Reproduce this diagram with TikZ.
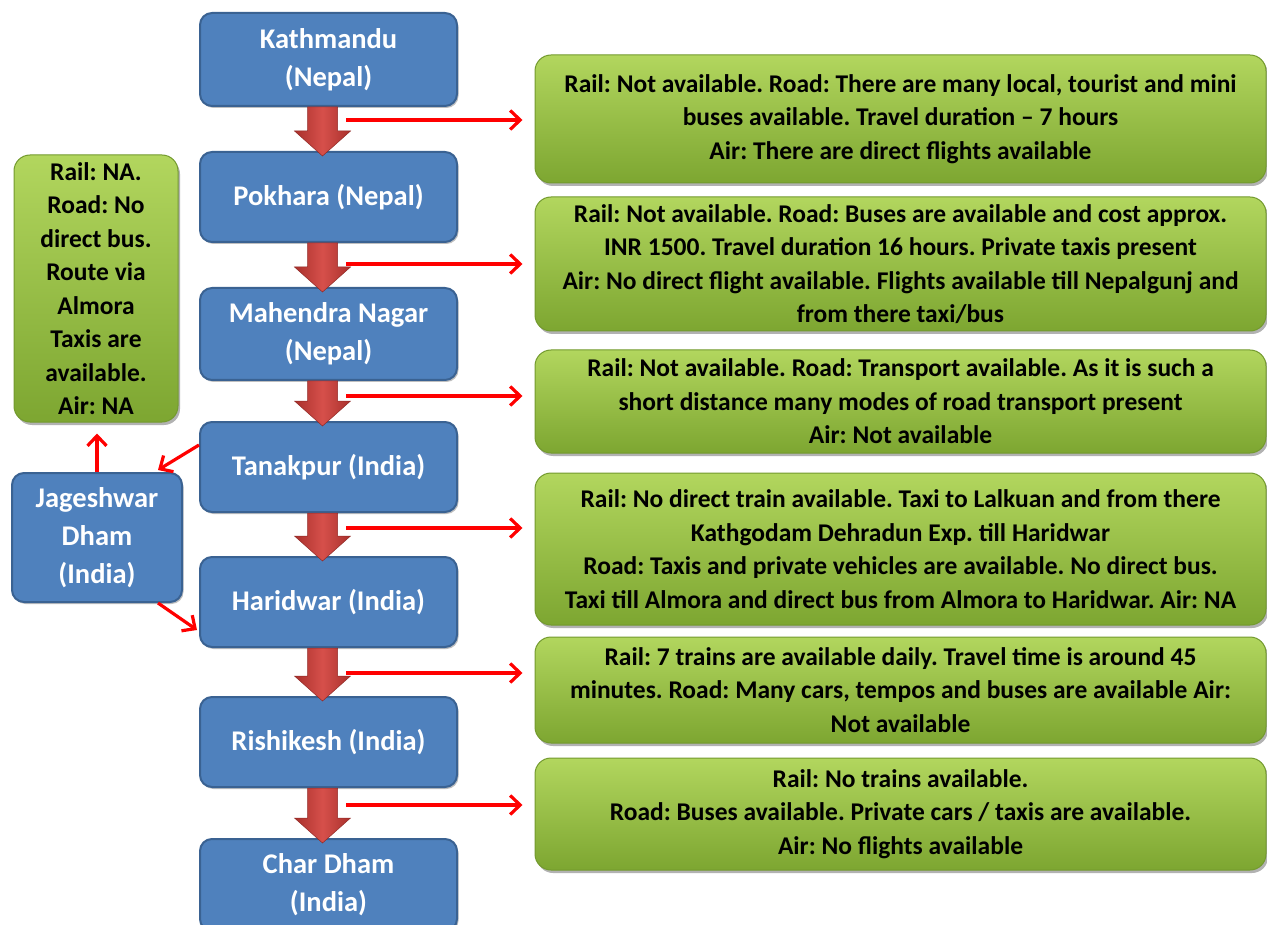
\documentclass[tikz,border=0pt]{standalone}
\usepackage{fontspec}
\setmainfont{Carlito}
\usetikzlibrary{shadows,arrows.meta,calc}
\definecolor{bfill}{HTML}{4F81BD}
\definecolor{bdraw}{HTML}{3A6292}
\definecolor{gtop}{HTML}{B2D65E}
\definecolor{gbot}{HTML}{7DA631}
\definecolor{gdraw}{HTML}{739A2E}
\definecolor{rlight}{HTML}{D6504B}
\definecolor{rdark}{HTML}{A9302C}
\definecolor{arrred}{HTML}{FF0000}
\tikzset{
  bluebox/.style={draw=bdraw, fill=bfill, line width=2pt, rounded corners=12pt,
    minimum width=257pt, text=white, align=center, inner sep=2pt,
    font=\bfseries\fontsize{28.5}{38}\selectfont,
    drop shadow={shadow xshift=1.5pt, shadow yshift=-2pt, fill=black, opacity=0.25}},
  greenbox/.style={draw=gdraw, line width=1pt, rounded corners=16pt,
    top color=gtop, bottom color=gbot, text=black, align=center, inner sep=2pt,
    font=\bfseries\fontsize{25.5}{33.5}\selectfont,
    drop shadow={shadow xshift=2pt, shadow yshift=-3pt, fill=black, opacity=0.3}},
  thinarr/.style={draw=arrred, line width=3.2pt, -{Straight Barb[length=10pt,width=19pt]}},
  blockarr/.style={draw=rdark!85!black, line width=0.5pt, left color=rdark, right color=rdark, middle color=rlight}
}
\newcommand\blkarrow[2]{%
  \path ([xshift=-6pt]#1.south) coordinate (bat) ([xshift=-6pt,yshift=-5pt]#2.north) coordinate (bab);
  \draw[blockarr] let \p1=(bat), \p2=(bab) in
    (\x1-15pt,\y1) -- (\x1-15pt,\y2+25pt) -- (\x1-28pt,\y2+25pt) -- (\x1,\y2)
    -- (\x1+28pt,\y2+25pt) -- (\x1+15pt,\y2+25pt) -- (\x1+15pt,\y1) -- cycle;}
\begin{document}
\frenchspacing
\begin{tikzpicture}[x=1pt,y=-1pt]
\useasboundingbox (0,0) rectangle (1267,925);
% blue boxes
\node[bluebox, minimum height=93pt] (kat) at (328.5,59.5) {Kathmandu\\(Nepal)};
\node[bluebox, minimum height=90pt] (pok) at (328.5,197) {Pokhara (Nepal)};
\node[bluebox, minimum height=92pt] (mah) at (328.5,334) {Mahendra Nagar\\(Nepal)};
\node[bluebox, minimum height=90pt] (tan) at (328.5,467) {Tanakpur (India)};
\node[bluebox, minimum height=90pt] (har) at (328.5,602) {Haridwar (India)};
\node[bluebox, minimum height=90pt] (ris) at (328.5,742) {Rishikesh (India)};
\node[bluebox, minimum height=92pt] (cha) at (328.5,885) {Char Dham\\(India)};
\node[bluebox, minimum width=170pt, minimum height=129pt] (jag) at (97,537.5) {Jageshwar\\Dham\\(India)};
% green boxes
\node[greenbox, minimum width=731pt, minimum height=128pt] (g1) at (900.5,119) {Rail: Not available. Road: There are many local, tourist and mini\\buses available. Travel duration -- 7 hours\\Air: There are direct flights available};
\node[greenbox, minimum width=731pt, minimum height=134pt] (g2) at (900.5,264) {Rail: Not available. Road: Buses are available and cost approx.\\INR 1500. Travel duration 16 hours. Private taxis present\\Air: No direct flight available. Flights available till Nepalgunj and\\from there taxi/bus};
\node[greenbox, minimum width=731pt, minimum height=103pt] (g3) at (900.5,401.5) {Rail: Not available. Road: Transport available. As it is such a\\short distance many modes of road transport present\\Air: Not available};
\node[greenbox, minimum width=731pt, minimum height=152pt] (g4) at (900.5,549) {Rail: No direct train available. Taxi to Lalkuan and from there\\Kathgodam Dehradun Exp. till Haridwar\\Road: Taxis and private vehicles are available. No direct bus.\\Taxi till Almora and direct bus from Almora to Haridwar. Air: NA};
\node[greenbox, minimum width=731pt, minimum height=106pt] (g5) at (900.5,690) {Rail: 7 trains are available daily. Travel time is around 45\\minutes. Road: Many cars, tempos and buses are available Air:\\Not available};
\node[greenbox, minimum width=731pt, minimum height=112pt] (g6) at (900.5,814) {Rail: No trains available.\\Road: Buses available. Private cars / taxis are available.\\Air: No flights available};
\node[greenbox, minimum width=164pt, minimum height=267pt] (gl) at (96,288.5) {Rail: NA.\\Road: No\\direct bus.\\Route via\\Almora\\Taxis are\\available.\\Air: NA};
% block arrows
\blkarrow{kat}{pok}
\blkarrow{pok}{mah}
\blkarrow{mah}{tan}
\blkarrow{tan}{har}
\blkarrow{har}{ris}
\blkarrow{ris}{cha}
% thin arrows to the green boxes
\coordinate (s1) at (346,120);
\coordinate (s2) at (346,264);
\coordinate (s3) at (346,396);
\coordinate (s4) at (346,528);
\coordinate (s5) at (346,673);
\coordinate (s6) at (346,805);
\foreach \i in {1,...,6}{\draw[thinarr, shorten >=12pt] (s\i) -- (s\i -| g\i.west);}
% Jageshwar connectors
\draw[thinarr, shorten >=11pt] (jag.north) -- (jag.north |- gl.south);
\draw[thinarr] ([yshift=22pt]tan.west) -- ([xshift=-25pt,yshift=2pt]jag.north east);
\draw[thinarr] ([xshift=-25pt]jag.south east) -- ([xshift=-2pt,yshift=-28pt]har.west);
\end{tikzpicture}
\end{document}
